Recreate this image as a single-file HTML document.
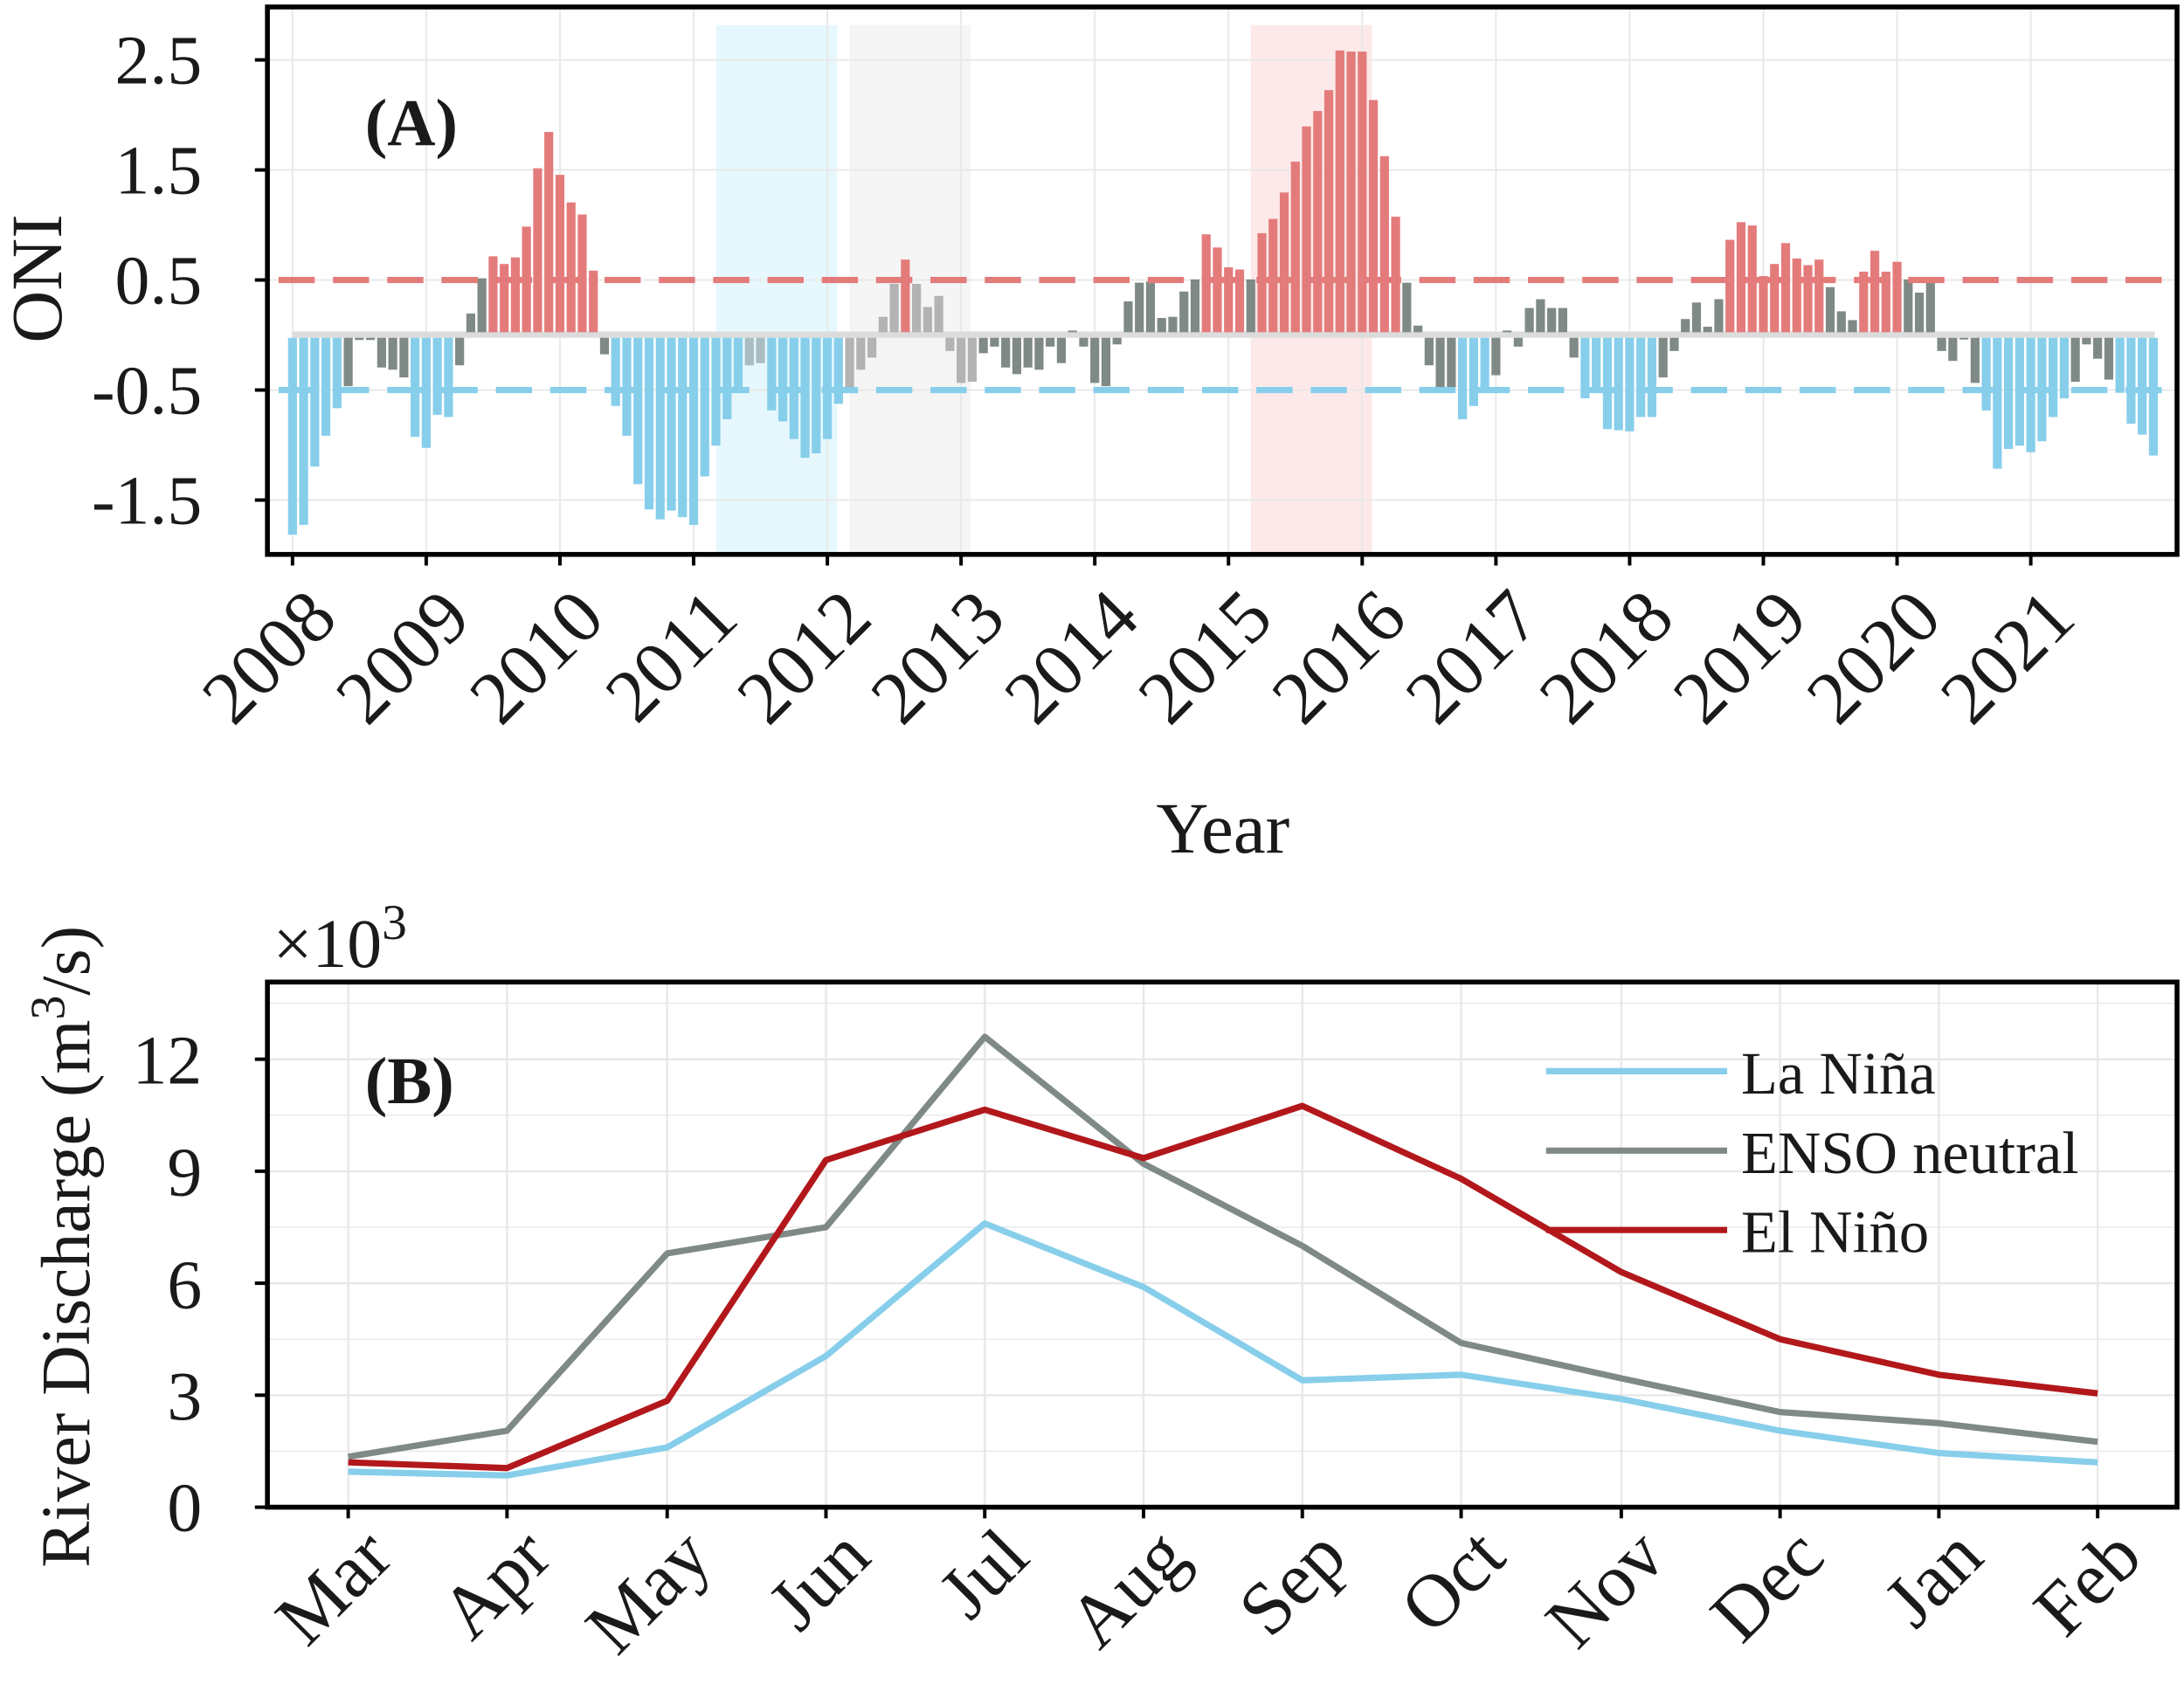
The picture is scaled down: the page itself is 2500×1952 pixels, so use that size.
<!DOCTYPE html>
<html><head><meta charset="utf-8"><style>
html,body{margin:0;padding:0;background:#fff}
svg{display:block}
text{font-family:"Liberation Serif",serif;fill:#1a1a1a}
</style></head><body>
<svg id="s" width="2500" height="1952" viewBox="0 0 1568 1224" preserveAspectRatio="none" xmlns="http://www.w3.org/2000/svg">
<rect x="0" y="0" width="1568" height="1224" fill="#fff"/>
<rect x="514" y="18" width="87" height="380" fill="#e6f8fd"/>
<rect x="610" y="18" width="87" height="380" fill="#f5f5f5"/>
<rect x="898" y="18" width="87" height="380" fill="#fde9e9"/>
<g id="gridA" stroke="#e8e8e8" stroke-width="1.2"></g>
<rect x="210" y="238" width="1337" height="4.5" fill="#dcdcdc"/>
<g id="bars"></g>
<line x1="200" y1="201" x2="1563" y2="201" stroke="#e47b7b" stroke-width="4.5" stroke-dasharray="26,13"/>
<line x1="200" y1="280" x2="1563" y2="280" stroke="#87ceeb" stroke-width="4.5" stroke-dasharray="26,13"/>
<rect x="192" y="5" width="1371" height="393" fill="none" stroke="#000" stroke-width="3.5"/>
<g id="ticksA" stroke="#000" stroke-width="2.5"></g>
<g font-size="50" text-anchor="end">
<text x="145" y="60">2.5</text><text x="145" y="139">1.5</text><text x="145" y="218">0.5</text>
<text x="145" y="297">-0.5</text><text x="145" y="376">-1.5</text>
</g>
<text x="262" y="104" font-size="48" font-weight="bold">(A)</text>
<text transform="translate(44,200) rotate(-90)" font-size="52" text-anchor="middle">ONI</text>
<g id="xlabA" font-size="54" text-anchor="end"></g>
<text x="878" y="612" font-size="52" text-anchor="middle">Year</text>

<g id="gridB" stroke="#e8e8e8" stroke-width="1.5"></g>
<g fill="none" stroke-width="4.5" stroke-linejoin="round">
<polyline id="ln" stroke="#87ceeb"/>
<polyline id="ne" stroke="#7f8a86"/>
<polyline id="el" stroke="#b2181b"/>
</g>
<rect x="192" y="705" width="1371" height="377" fill="none" stroke="#000" stroke-width="3.5"/>
<g id="ticksB" stroke="#000" stroke-width="2.5"></g>
<g font-size="50" text-anchor="end">
<text x="145" y="1099">0</text><text x="145" y="1019">3</text><text x="145" y="939">6</text>
<text x="145" y="858">9</text><text x="145" y="778">12</text>
</g>
<text x="196" y="694" font-size="50">×10<tspan font-size="36" dy="-20">3</tspan></text>
<text x="262" y="792" font-size="48" font-weight="bold">(B)</text>
<text transform="translate(64,895) rotate(-90)" font-size="50" text-anchor="middle">River Discharge (m<tspan font-size="35" dy="-18">3</tspan><tspan dy="18">/s)</tspan></text>
<g stroke-width="4.5">
<line x1="1110" y1="769" x2="1240" y2="769" stroke="#87ceeb"/>
<line x1="1110" y1="826" x2="1240" y2="826" stroke="#7f8a86"/>
<line x1="1110" y1="883" x2="1240" y2="883" stroke="#b2181b"/>
</g>
<g font-size="43">
<text x="1250" y="785">La Niña</text>
<text x="1250" y="842">ENSO neutral</text>
<text x="1250" y="899">El Niño</text>
</g>
<g id="xlabB" font-size="54" text-anchor="end"></g>
</svg>
<script>
var NS="http://www.w3.org/2000/svg";
function el(tag,attrs,parent,txt){var e=document.createElementNS(NS,tag);for(var k in attrs)e.setAttribute(k,attrs[k]);if(txt)e.textContent=txt;document.getElementById(parent).appendChild(e);return e;}
var v=[
-1.79,-1.70,-1.17,-0.89,-0.64,-0.44,-0.02,-0.02,-0.27,-0.29,-0.36,-0.90,
-1.00,-0.70,-0.72,-0.25,0.17,0.49,0.69,0.62,0.68,0.96,1.49,1.82,
1.43,1.18,1.07,0.56,-0.15,-0.62,-0.89,-1.33,-1.56,-1.65,-1.57,-1.63,
-1.70,-1.26,-0.98,-0.74,-0.50,-0.25,-0.23,-0.66,-0.76,-0.92,-1.09,-1.05,
-0.92,-0.60,-0.48,-0.29,-0.18,0.14,0.44,0.66,0.44,0.23,0.33,-0.12,
-0.41,-0.40,-0.14,-0.08,-0.27,-0.33,-0.27,-0.29,-0.08,-0.23,0,-0.08,
-0.41,-0.44,-0.06,0.28,0.45,0.46,0.13,0.14,0.37,0.48,0.89,0.77,
0.59,0.57,0.48,0.90,1.03,1.27,1.55,1.87,2.01,2.20,2.56,2.55,
2.55,2.11,1.60,1.05,0.45,0.06,-0.25,-0.45,-0.45,-0.74,-0.62,-0.50,
-0.34,0,-0.08,0.22,0.30,0.22,0.22,-0.18,-0.55,-0.50,-0.83,-0.84,
-0.85,-0.72,-0.72,-0.36,-0.12,0.12,0.27,0.05,0.30,0.84,1.0,0.97,
0.51,0.62,0.81,0.67,0.61,0.66,0.41,0.19,0.11,0.55,0.74,0.55,
0.64,0.48,0.36,0.49,-0.12,-0.21,-0.01,-0.41,-0.66,-1.19,-1.01,-0.98,
-1.04,-0.94,-0.72,-0.55,-0.40,-0.06,-0.19,-0.38,-0.50,-0.78,-0.88,-1.07];
var z=240.5,u=79;
for(var y=0;y<14;y++){var x=210+96*y;el("line",{x1:x,y1:5,x2:x,y2:398},"gridA");el("line",{x1:x,y1:398,x2:x,y2:406},"ticksA");
 el("text",{transform:"translate("+(x+34)+",446) rotate(-45)"},"xlabA",String(2008+y));}
[43,122,201,280,359].forEach(function(yy){el("line",{x1:192,y1:yy,x2:1563,y2:yy},"gridA");el("line",{x1:183,y1:yy,x2:192,y2:yy},"ticksA");});
for(var i=0;i<v.length;i++){var x=210+8*i,val=v[i];var c;
 if(val>=0.5)c="#e47b7b";else if(val<=-0.5)c="#87ceeb";else{c="#7f8a86";if(i>=50&&i<=61)c="#b3b3b3";else if(i>=38&&i<=49)c="#a9bcc0";}
 var h=Math.abs(val)*u;if(h<1.2)h=1.2;
 var yy=val>=0?z-2-h:z+2;
 el("rect",{x:x-3.2,y:yy,width:6.4,height:h,fill:c},"bars");}
var mx=[250,364,479,593,707,821,935,1049,1164,1278,1392,1506],mn=["Mar","Apr","May","Jun","Jul","Aug","Sep","Oct","Nov","Dec","Jan","Feb"];
var b0=1082,bu=26.8;
mx.forEach(function(x,k){el("line",{x1:x,y1:705,x2:x,y2:1082},"gridB");el("line",{x1:x,y1:1082,x2:x,y2:1090},"ticksB");
 el("text",{transform:"translate("+(x+34)+",1120) rotate(-45)"},"xlabB",mn[k]);});
[0,3,6,9,12].forEach(function(q){var yy=b0-q*bu;el("line",{x1:192,y1:yy,x2:1563,y2:yy},"gridB");el("line",{x1:183,y1:yy,x2:192,y2:yy},"ticksB");});
[1.5,4.5,7.5,10.5,13.5].forEach(function(q){var yy=b0-q*bu;el("line",{x1:192,y1:yy,x2:1563,y2:yy,"stroke-width":0.8},"gridB");});
function pts(a){return a.map(function(q,k){return mx[k]+","+(b0-q*bu).toFixed(1);}).join(" ");}
document.getElementById("ln").setAttribute("points",pts([0.95,0.85,1.6,4.05,7.6,5.9,3.4,3.55,2.9,2.05,1.45,1.2]));
document.getElementById("ne").setAttribute("points",pts([1.35,2.05,6.8,7.5,12.6,9.2,7.0,4.4,3.45,2.55,2.25,1.75]));
document.getElementById("el").setAttribute("points",pts([1.2,1.05,2.85,9.3,10.65,9.35,10.75,8.8,6.3,4.5,3.55,3.05]));
</script>
</body></html>
